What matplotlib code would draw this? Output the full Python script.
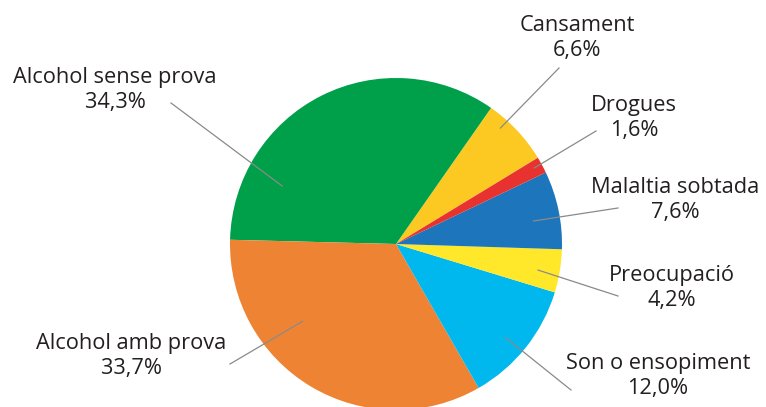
import numpy as np
import matplotlib.pyplot as plt

labels = ["Cansament", "Alcohol sense prova", "Alcohol amb prova", "Son o ensopiment",
          "Preocupació", "Malaltia sobtada", "Drogues"]
values = [6.6, 34.3, 33.7, 12.0, 4.2, 7.6, 1.6]
colors = ["#fcc923", "#00a04b", "#ee8433", "#00b7ee", "#ffe82a", "#1d76bc", "#e7322f"]

# label layout in pixel coords (y from top): text centre, line start, line tip (angle deg, radius frac)
text_pos = [(577, 38), (115, 90), (131, 356), (658, 376), (672, 288), (675, 200), (634, 118)]
line_start = [(559, 68), (171, 103), (230, 364), (571, 390), (618, 296), (618, 208), (596, 131)]
line_tip = [(48, 0.94), (153, 0.77), (219.6, 0.73), (-40.5, 0.87), (-10.4, 0.87), (9.5, 0.84), (28.8, 0.95)]

W, H = 766, 407
cx, cy, r = 396, H - 244, 166

fig = plt.figure(figsize=(W / 100, H / 100), dpi=100)
ax = fig.add_axes([0, 0, 1, 1])

ax.pie(values, colors=colors, startangle=31.3, counterclock=True, center=(cx, cy), radius=r,
       wedgeprops=dict(linewidth=0), frame=True)
ax.set_xlim(0, W)
ax.set_ylim(0, H)
ax.set_aspect("equal")
ax.axis("off")

for lab, v, tp, ls, (ang, fr) in zip(labels, values, text_pos, line_start, line_tip):
    txt = lab + "\n" + f"{v:.1f}".replace(".", ",") + "%"
    ax.text(tp[0], H - tp[1], txt, ha="center", va="center", multialignment="center",
            fontsize=15.7, color="#231f20", family="Open Sans", linespacing=1.2)
    tx = cx + fr * r * np.cos(np.radians(ang))
    ty = cy + fr * r * np.sin(np.radians(ang))
    ax.plot([ls[0], tx], [H - ls[1], ty], color="#8a8a8a", lw=0.9)

fig.savefig("out.png", dpi=100)
